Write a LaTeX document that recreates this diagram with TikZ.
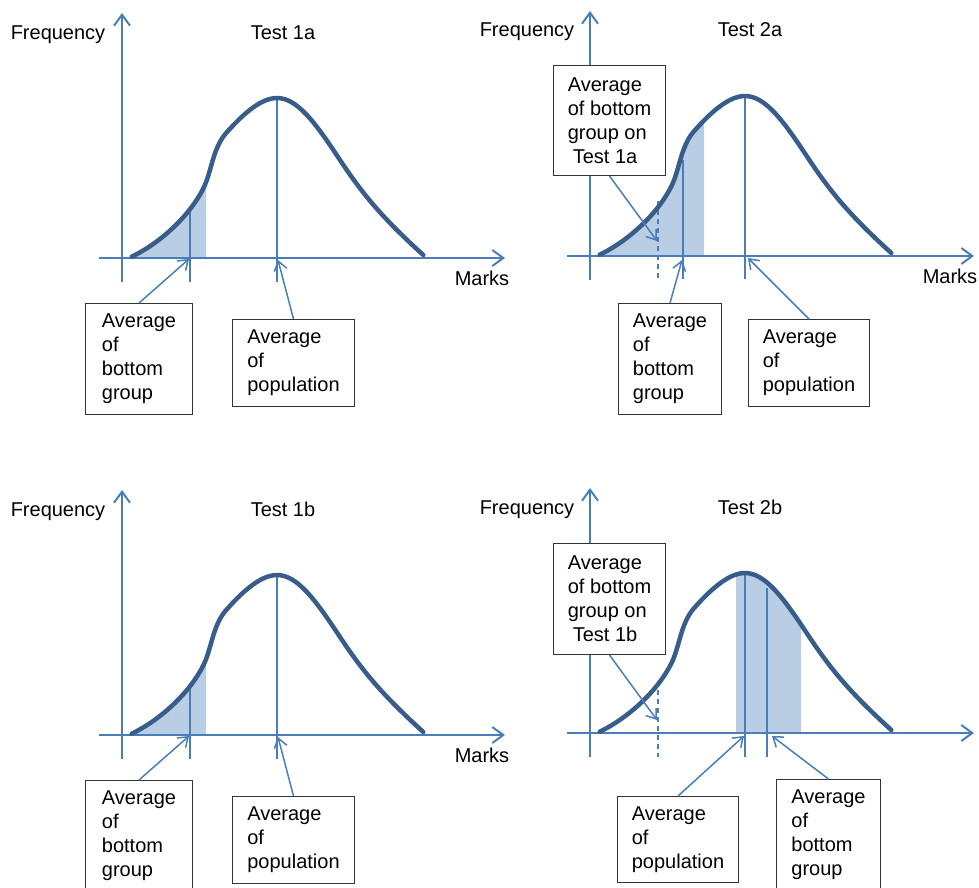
\documentclass[tikz,border=0pt]{standalone}
\usepackage{fontspec}
\setmainfont{Liberation Sans}
\usetikzlibrary{arrows.meta}
\definecolor{axisblue}{HTML}{4A7EBB}
\definecolor{curveblue}{HTML}{385D8A}
\definecolor{shadeblue}{HTML}{B9CDE5}
\hyphenpenalty=10000
\exhyphenpenalty=10000

% bell-shaped distribution, in the coordinates of the first panel
\newcommand\bellpath{(131.7,256.7) .. controls (160,243) and (190,216) .. (204,187)
  .. controls (212,170) and (213,146) .. (228,131)
  .. controls (245,112) and (262,98) .. (277,98)
  .. controls (297,98) and (315,122) .. (340,160)
  .. controls (360,190) and (378,214) .. (423.3,255)}

\tikzset{
  axis/.style={draw=axisblue, line width=2pt, -{Straight Barb[length=11pt,width=16pt]}},
  marker/.style={draw=axisblue, line width=1.5pt},
  pointer/.style={draw=axisblue, line width=1.5pt, -{Straight Barb[length=9pt,width=13pt]}},
  bell/.style={draw=curveblue, line width=4.5pt, line cap=round},
  box/.style={draw=black!80, line width=1pt, fill=white, anchor=north west,
    align=left, inner xsep=0pt, inner ysep=0pt, font=\fontsize{20}{24}\selectfont},
  lbl/.style={font=\fontsize{20}{24}\selectfont, inner sep=0pt, anchor=base},
}

\begin{document}
\begin{tikzpicture}[x=1pt, y=-1pt]
\useasboundingbox (0,0) rectangle (979,887);
\clip (0,0) rectangle (979,887);

% ---------- Test 1a ----------
\begin{scope}
  \begin{scope}
    \clip (131,80) rectangle (206,258);
    \fill[shadeblue] \bellpath -- (423.3,258) -- (131.7,258) -- cycle;
  \end{scope}
  \draw[marker] (190,207) -- (190,282);
  \draw[marker] (277,98) -- (277,282);
  \draw[axis] (122,282) -- (122,13);
  \draw[axis] (99,258) -- (505,258);
  \draw[bell] \bellpath;
  \node[lbl] (tlFreq) at (58,39) {Frequency};
  \node[lbl] (tlTitle) at (283,39) {Test 1a};
  \node[lbl] (tlMarks) at (482,285) {Marks};
\end{scope}
\node[box, minimum width=107pt, minimum height=111pt] (tlLow) at (85,303) {Average\\of\\bottom\\group};
\node[box, minimum width=122pt, minimum height=87pt] (tlPop) at (232,319) {Average\\of\\population};
\coordinate (tlLowTip) at (189,259);
\coordinate (tlPopTip) at (278,260);
\draw[pointer] (tlLow.north) -- (tlLowTip);
\draw[pointer] (tlPop.north) -- (tlPopTip);

% ---------- Test 2a ----------
\begin{scope}[shift={(468,-2)}]
  \begin{scope}
    \clip (131,80) rectangle (236,258);
    \fill[shadeblue] \bellpath -- (423.3,258) -- (131.7,258) -- cycle;
  \end{scope}
\end{scope}
\draw[marker, dashed, dash pattern=on 5pt off 4pt] (658,201) -- (658,279);
\draw[marker] (683,160) -- (683,279);
\draw[marker] (745,96) -- (745,279);
\begin{scope}[shift={(468,-2)}]
  \draw[axis] (122,282) -- (122,13);
  \draw[axis] (99,258) -- (506,258);
  \draw[bell] \bellpath;
\end{scope}
\node[lbl] (trFreq) at (527,36) {Frequency};
\node[lbl] (trTitle) at (750,36) {Test 2a};
\node[lbl] (trMarks) at (950,283) {Marks};
\node[box, minimum width=112pt, minimum height=110pt] (trPrev) at (553,65) {Average\\of bottom\\group on\\\hspace*{5pt}Test 1a};
\node[box, minimum width=103pt, minimum height=111pt] (trLow) at (618,303) {Average\\of\\bottom\\group};
\node[box, minimum width=121pt, minimum height=87pt] (trPop) at (748,319) {Average\\of\\population};
\coordinate (trPrevTip) at (657,241);
\coordinate (trLowTip) at (682,260);
\coordinate (trPopTip) at (748,258);
\draw[pointer] (trPrev.south) -- (trPrevTip);
\draw[pointer] (trLow.north) -- (trLowTip);
\draw[pointer] (trPop.north) -- (trPopTip);

% ---------- Test 1b ----------
\begin{scope}[shift={(0,477)}]
  \begin{scope}
    \clip (131,80) rectangle (206,258);
    \fill[shadeblue] \bellpath -- (423.3,258) -- (131.7,258) -- cycle;
  \end{scope}
  \draw[marker] (190,207) -- (190,282);
  \draw[marker] (277,98) -- (277,282);
  \draw[axis] (122,282) -- (122,13);
  \draw[axis] (99,258) -- (505,258);
  \draw[bell] \bellpath;
\end{scope}
\node[lbl] (blFreq) at (58,516) {Frequency};
\node[lbl] (blTitle) at (283,516) {Test 1b};
\node[lbl] (blMarks) at (482,762) {Marks};
\node[box, minimum width=107pt, minimum height=111pt] (blLow) at (85,780) {Average\\of\\bottom\\group};
\node[box, minimum width=122pt, minimum height=87pt] (blPop) at (232,796) {Average\\of\\population};
\coordinate (blLowTip) at (189,736);
\coordinate (blPopTip) at (278,737);
\draw[pointer] (blLow.north) -- (blLowTip);
\draw[pointer] (blPop.north) -- (blPopTip);

% ---------- Test 2b ----------
\begin{scope}[shift={(468,475)}]
  \begin{scope}
    \clip (268,80) rectangle (333,258);
    \fill[shadeblue] \bellpath -- (423.3,258) -- (131.7,258) -- cycle;
  \end{scope}
\end{scope}
\draw[marker, dashed, dash pattern=on 5pt off 4pt] (658,681) -- (658,757);
\draw[marker] (745,573) -- (745,757);
\draw[marker] (767,588) -- (767,757);
\begin{scope}[shift={(468,475)}]
  \draw[axis] (122,282) -- (122,13);
  \draw[axis] (99,258) -- (506,258);
  \draw[bell] \bellpath;
\end{scope}
\node[lbl] (brFreq) at (527,514) {Frequency};
\node[lbl] (brTitle) at (750,514) {Test 2b};
\node[box, minimum width=112pt, minimum height=111pt] (brPrev) at (553,543) {Average\\of bottom\\group on\\\hspace*{5pt}Test 1b};
\node[box, minimum width=121pt, minimum height=86pt] (brPop) at (617,796) {Average\\of\\population};
\node[box, minimum width=104pt, minimum height=111pt] (brLow) at (776,779) {Average\\of\\bottom\\group};
\coordinate (brPrevTip) at (657,720);
\coordinate (brPopTip) at (744,736);
\coordinate (brLowTip) at (772,736);
\draw[pointer] (brPrev.south) -- (brPrevTip);
\draw[pointer] (brPop.north) -- (brPopTip);
\draw[pointer] (brLow.north) -- (brLowTip);
\end{tikzpicture}
\end{document}
